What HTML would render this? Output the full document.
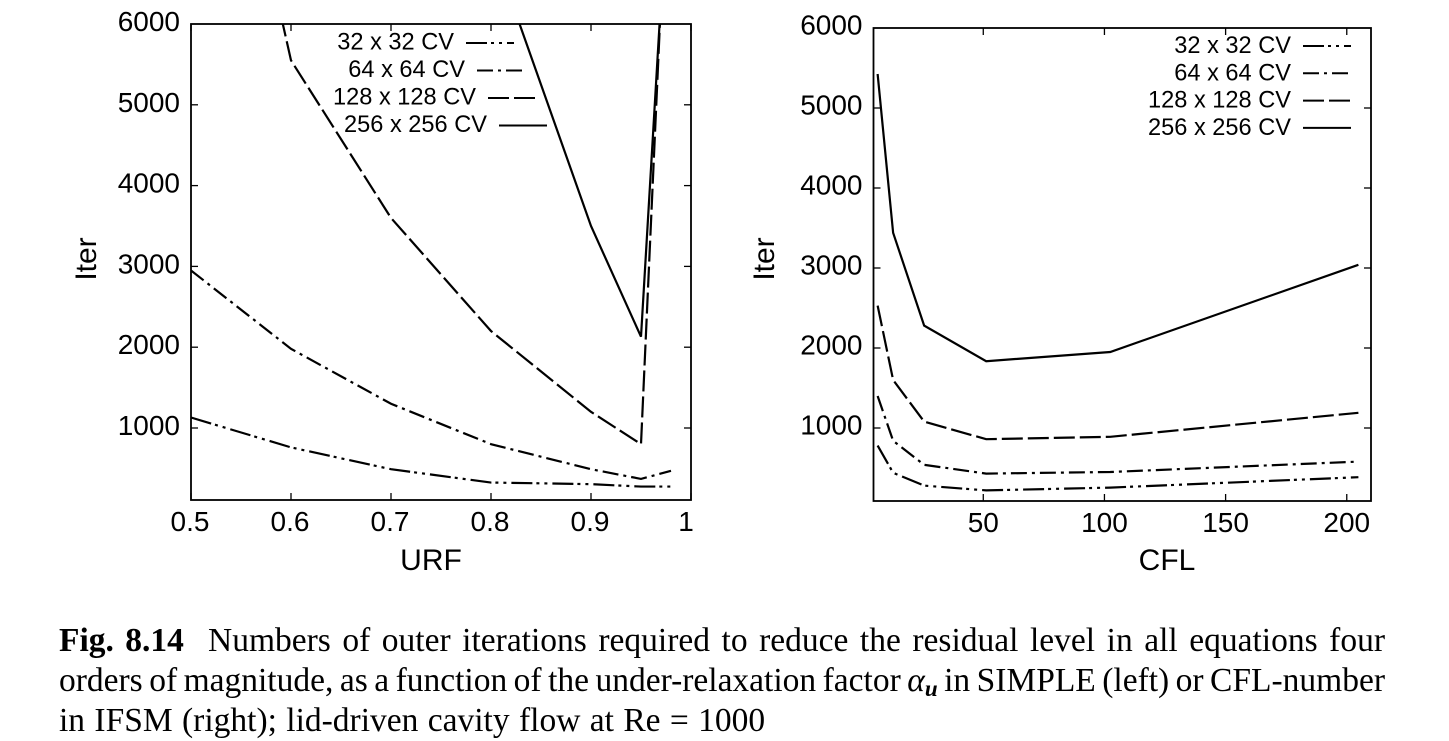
<!DOCTYPE html>
<html lang="en">
<head>
<meta charset="utf-8">
<title>Fig. 8.14</title>
<style>
html,body{margin:0;padding:0;background:#fff;}
#page{position:relative;width:1449px;height:741px;overflow:hidden;background:#fff;}
#charts{position:absolute;left:0;top:0;}
.cap{position:absolute;left:59px;width:1326px;height:36px;line-height:36px;font-family:"Liberation Serif",serif;font-size:33.5px;color:#000;white-space:nowrap;}
.just{text-align:justify;text-align-last:justify;white-space:normal;}
.fig{display:inline-block;width:149px;font-weight:bold;white-space:nowrap;text-align:left;text-align-last:left;word-spacing:3px;}
.sub{font-size:23px;font-style:italic;position:relative;top:5px;font-weight:bold;}
</style>
</head>
<body>
<div id="page">
<svg id="charts" width="1449" height="741" xmlns="http://www.w3.org/2000/svg"></svg>
<div class="cap just" style="top:623px"><span class="fig">Fig. 8.14</span>Numbers of outer iterations required to reduce the residual level in all equations four</div>
<div class="cap just" style="top:663px;word-spacing:-5px">orders of magnitude, as a function of the under-relaxation factor <i>α<span class="sub">u</span></i> in SIMPLE (left) or CFL-number</div>
<div class="cap" style="top:703px;word-spacing:1px">in IFSM (right); lid-driven cavity flow at Re = 1000</div>
</div>
<script>
const seriesNames = ['32 x 32 CV', '64 x 64 CV', '128 x 128 CV', '256 x 256 CV'];
const yTickValues = [1000, 2000, 3000, 4000, 5000, 6000];

const urfTicks = [0.5, 0.6, 0.7, 0.8, 0.9, 1];
const urfTickLabels = ['0.5', '0.6', '0.7', '0.8', '0.9', '1'];
const urf32X = [0.5, 0.6, 0.7, 0.8, 0.9, 0.95, 0.98];
const urf32Y = [1130, 760, 490, 325, 305, 275, 275];
const urf64X = [0.5, 0.6, 0.7, 0.8, 0.9, 0.95, 0.98];
const urf64Y = [2950, 1980, 1300, 800, 490, 370, 470];
const urf128X = [0.59, 0.6, 0.7, 0.8, 0.9, 0.95, 0.97];
const urf128Y = [6100, 5550, 3600, 2200, 1200, 800, 6300];
const urf256X = [0.8, 0.9, 0.95, 0.97];
const urf256Y = [7000, 3500, 2130, 6300];

const cflTicks = [50, 100, 150, 200];
const cflTickLabels = ['50', '100', '150', '200'];
const cflX = [6.4, 12.8, 25.6, 51.2, 102.4, 204.8];
const cfl32Y = [780, 440, 280, 220, 255, 385];
const cfl64Y = [1400, 840, 540, 430, 450, 580];
const cfl128Y = [2530, 1600, 1080, 860, 890, 1190];
const cfl256Y = [5425, 3440, 2280, 1835, 1950, 3040];

const NS = 'http://www.w3.org/2000/svg';
const root = document.getElementById('charts');
const FONT = '"Liberation Sans", sans-serif';
const dashes = ['21 4 3 5 3 5', '16 5 3 5', '21 5', 'none'];

function make(parent, tag, attrs, text) {
  const el = document.createElementNS(NS, tag);
  for (const k in attrs) el.setAttribute(k, attrs[k]);
  if (text !== undefined) el.textContent = text;
  parent.appendChild(el);
  return el;
}

function drawPanel(cfg) {
  const g = make(root, 'g', {});
  
  
  const sx = v => cfg.left + (v - cfg.xMin) / (cfg.xMax - cfg.xMin) * (cfg.right - cfg.left);
  const sy = v => cfg.y1000 - (v - 1000) * cfg.pxPerUnit;

  const clip = make(g, 'clipPath', {id: cfg.id + '-clip'});
  make(clip, 'rect', {x: cfg.left, y: cfg.top, width: cfg.right - cfg.left, height: cfg.bottom - cfg.top});

  const frame = make(g, 'rect', {x: cfg.left, y: cfg.top, width: cfg.right - cfg.left, height: cfg.bottom - cfg.top, fill: 'none', stroke: '#000', 'stroke-width': 1.8});
  
  

  cfg.xTicks.forEach((t, i) => {
    const x = sx(t);
    const tickB = make(g, 'line', {x1: x, x2: x, y1: cfg.bottom, y2: cfg.bottom - 7, stroke: '#000', 'stroke-width': 1.3});
    
    
    const tickT = make(g, 'line', {x1: x, x2: x, y1: cfg.top, y2: cfg.top + 7, stroke: '#000', 'stroke-width': 1.3});
    
    
    const lab = make(g, 'text', {x: x + cfg.xLabelShift(i), y: cfg.bottom + 31, 'text-anchor': 'middle', 'font-family': FONT, 'font-size': 28}, cfg.xLabels[i]);
    
    
  });

  yTickValues.forEach(t => {
    const y = sy(t);
    if (t < 6000) {
      const tickL = make(g, 'line', {x1: cfg.left, x2: cfg.left + 7, y1: y, y2: y, stroke: '#000', 'stroke-width': 1.3});
      
      
      const tickR = make(g, 'line', {x1: cfg.right, x2: cfg.right - 7, y1: y, y2: y, stroke: '#000', 'stroke-width': 1.3});
      
      
    }
    const lab = make(g, 'text', {x: cfg.left - 11, y: y + cfg.yLabelShift, 'text-anchor': 'end', 'font-family': FONT, 'font-size': 28}, String(t));
    
    
  });

  const xTitle = make(g, 'text', {x: cfg.xTitleX, y: 570, 'text-anchor': 'middle', 'font-family': FONT, 'font-size': 30}, cfg.xTitle);
  
  
  const yTitle = make(g, 'text', {transform: 'translate(' + cfg.yTitleX + ',259) rotate(-90)', 'text-anchor': 'middle', 'font-family': FONT, 'font-size': 30}, 'Iter');
  
  

  cfg.series.forEach((s, i) => {
    const d = s.x.map((v, j) => (j ? 'L' : 'M') + sx(v).toFixed(2) + ' ' + sy(s.y[j]).toFixed(2)).join(' ');
    const attrs = {d: d, fill: 'none', stroke: '#000', 'stroke-width': 2.2, 'clip-path': 'url(#' + cfg.id + '-clip)', 'stroke-linejoin': 'miter'};
    if (dashes[i] !== 'none') attrs['stroke-dasharray'] = dashes[i];
    const path = make(g, 'path', attrs);
    
    
  });

  seriesNames.forEach((name, i) => {
    const ly = cfg.legendY + i * cfg.legendStep;
    const lx = cfg.legendX(i);
    const txt = make(g, 'text', {x: lx - 12, y: ly + cfg.legendTextShift, 'text-anchor': 'end', 'font-family': FONT, 'font-size': 23.6}, name);
    
    
    const attrs = {x1: lx, x2: lx + 48, y1: ly, y2: ly, stroke: '#000', 'stroke-width': 2};
    if (dashes[i] !== 'none') attrs['stroke-dasharray'] = dashes[i];
    const sample = make(g, 'line', attrs);
    
    
  });
}

drawPanel({
  id: 'urf',
  left: 191, right: 691, top: 24, bottom: 500,
  xMin: 0.5, xMax: 1,
  y1000: 428, pxPerUnit: 0.0808,
  yLabelShift: 7,
  xTicks: urfTicks, xLabels: urfTickLabels,
  xLabelShift: i => (i === 5 ? -5 : -1),
  xTitle: 'URF', xTitleX: 431, yTitleX: 96,
  legendX: i => 466 + i * 11, legendY: 43, legendStep: 27.5,
  legendTextShift: 6.5,
  series: [
    {x: urf32X, y: urf32Y},
    {x: urf64X, y: urf64Y},
    {x: urf128X, y: urf128Y},
    {x: urf256X, y: urf256Y}
  ]
});

drawPanel({
  id: 'cfl',
  left: 873.5, right: 1371, top: 28, bottom: 501,
  xMin: 4.7, xMax: 210,
  y1000: 428, pxPerUnit: 0.080,
  yLabelShift: 6.5,
  xTicks: cflTicks, xLabels: cflTickLabels,
  xLabelShift: i => 0,
  xTitle: 'CFL', xTitleX: 1167, yTitleX: 774,
  legendX: i => 1303, legendY: 46, legendStep: 27.3,
  legendTextShift: 7,
  series: [
    {x: cflX, y: cfl32Y},
    {x: cflX, y: cfl64Y},
    {x: cflX, y: cfl128Y},
    {x: cflX, y: cfl256Y}
  ]
});
</script>
</body>
</html>
